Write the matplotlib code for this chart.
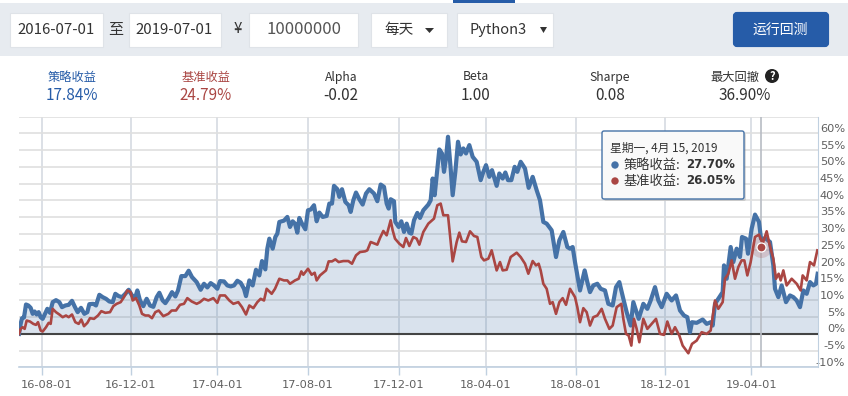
#!/usr/bin/env python3
"""Backtest page screenshot: parameter bar, summary numbers, return curves."""
import numpy as np
import matplotlib
matplotlib.use('Agg')
from matplotlib import pyplot as plt
from matplotlib.patches import Rectangle, FancyBboxPatch, Circle, Polygon
from matplotlib.transforms import ScaledTranslation

plt.rcParams['font.family'] = ['Noto Sans CJK SC', 'DejaVu Sans']

# x is a session position along the time axis, y is cumulative return in percent
blue_x_a = [57,62,66,72,78,85,92,98,104,110,116,122,128,135,142,150,158,168,178,186,196,206,216,225,233,243,253,262,268,280,288,298,308,318,328,338,346,356,366,376,386,396,406,412,420,430,440,450,460,470,478,488,496,506,516,526,534,544,556,566,576,590,602,612,622,632,642,652,660,672,682,692,702,712,722,732,738,748,758,768,778,786,796,802,808,818,826,832,838,852,862]
blue_y_a = [0,3,4.7,4.9,8.8,8.5,7.8,6,6.7,5.8,6.5,5,4.5,6,7.5,6.3,9.5,10.1,9.5,8,8.5,8.7,9.9,8,6.5,7.8,6,6.5,8.9,9,8.5,11.7,11,10.5,9.7,9.5,12,11.3,11,12,13.2,11.5,11,13,10,8.3,10.5,8.5,8.1,11,12.3,10,9.2,10.7,12.5,11.2,13,17.3,17.3,18.9,17,15.5,13.2,15,13.9,15.2,14.5,13.5,15.8,15.7,14.5,14.2,14.5,15.9,15.3,13.5,11.3,16,14.5,19.2,17.5,21.8,19.3,25.5,28.5,25.5,29,30,33.5,33.9,35]
blue_x_b = [870,878,885,892,898,906,916,924,932,942,950,958,968,980,988,996,1002,1012,1018,1026,1036,1046,1052,1060,1068,1078,1088,1098,1108,1122,1132,1142,1152,1160,1166,1172,1182,1186,1196,1204,1212,1220,1228,1234,1242,1252,1260,1270,1285,1292,1298,1304,1312,1318,1326,1332,1338,1344,1352,1358,1366,1374,1382,1390,1398,1408,1418,1430,1442,1450,1458,1468,1476,1490,1498,1508,1516,1524,1534,1544,1552,1562,1575,1586,1598,1610,1620,1630,1640,1655,1668,1678,1690,1702,1710]
blue_y_b = [32,33.7,33,30.3,34.7,33,31.3,37,37.2,38.5,33.7,36.3,35,35.3,39,39,44.3,43.3,41,43.3,39.5,38.5,36.5,40,42.3,40.3,38.7,42,43.3,42,39.7,44.7,44,39,37.5,40.3,39.7,33.5,32,33.7,30.5,33,30.3,30,34,36.2,34.7,37,38.7,40,46.5,41.5,49.5,55.2,54,48.5,52.5,59,49.5,41.5,48.5,57.5,53.7,55.5,54,56.5,53,51.5,46,48.5,50.5,47,49,44.3,48,46.5,48.3,46,46,50,48.5,51.5,49.5,43.7,47,43,40,33.5,33,31,23,28,30.5,26,25.5]
blue_x_c = [1718,1725,1732,1740,1748,1754,1762,1770,1780,1792,1802,1815,1825,1838,1848,1858,1870,1880,1892,1900,1916,1930,1942,1952,1965,1975,1985,2000,2015,2028,2040,2052,2062,2070,2076,2090,2108,2120,2132,2138,2145,2158,2168,2172,2180,2192,2200,2210,2220,2226,2238,2244,2255,2265,2277,2283,2298,2310,2320,2325,2335,2345,2358,2370,2380,2390,2400,2410,2420,2430,2440,2448,2453]
blue_y_c = [26,21.5,17.5,13,16.5,19,15.5,12.5,14.5,15,13.5,13,9,8.5,14,15.5,10.5,6.5,2.5,9.5,4.5,9,7.5,10,14,10,8,12,10,11.5,7,5.5,5,0.5,3.5,3.3,4.3,3,3.5,2.5,9,11,12.5,20.5,16.5,26,21.5,25.5,23,29,28.5,24,31.5,35.7,33.5,28.5,28.5,27.5,20.5,13.5,11,14.5,9.5,11.5,11,10,8,13,12,15.5,14.5,15,18]

red_x_a = [57,62,68,74,80,90,100,108,114,122,128,138,146,152,158,168,178,188,198,206,216,226,236,244,252,262,270,282,294,304,316,330,340,350,362,372,382,392,398,408,418,426,436,446,456,466,476,490,505,515,528,540,552,562,575,590,600,612,625,640,652,660,675,688,700,715,726,738,748,760,772,782,792,800,815,825,838,852,862]
red_y_a = [0,1.5,2,1.5,4,3.7,3,2.7,3.5,1,0.7,2,3.3,3,7.5,6.5,5.8,5,5.5,5,5.8,3.5,3,4.3,2.3,3.3,4.7,4.5,5.5,6.8,6.3,6.5,8.3,9,9.5,11,13,12.5,10,10.7,8.5,6,5.5,5.5,4.7,6.5,7,5.3,6,7,7,8.7,9,10.7,9.7,9,9.5,10.5,10,10.7,9.3,11.5,11.5,10,9,9.5,8,5.8,8.5,7.7,9.5,10.5,10,13.5,12,13.5,16.5,16,16]
red_x_b = [870,885,896,904,910,924,935,944,950,960,978,986,996,1006,1016,1030,1045,1056,1068,1080,1095,1102,1112,1132,1140,1150,1160,1172,1178,1185,1198,1210,1218,1228,1240,1250,1258,1270,1285,1302,1312,1322,1330,1344,1350,1358,1370,1378,1386,1398,1410,1422,1432,1444,1452,1465,1475,1490,1500,1508,1520,1532,1550,1562,1575,1585,1598,1608,1616,1622,1630,1640,1650,1658,1668,1678,1688,1698,1710]
red_y_b = [15,16,16.5,18.7,17.7,19.5,17.7,18.3,16,17.5,19,21.7,21.7,22.3,21.5,21.8,21.8,21,23.5,24.5,24.7,25,27.5,26.7,28.7,30.8,29.5,34,31,28.5,27,26,28.7,26.3,29,28.5,26.7,30.5,33,34.5,38.5,39,35.5,35.5,29.5,21.7,27.5,30.3,27.7,27.5,30.7,29.3,29,23,22,22.5,25,19,21.5,19,19.2,23,24.3,23,21,18,21.8,20.5,21,19,15,13.5,9,9.5,6,9.5,10.7,8.7,13.5]
red_x_c = [1725,1732,1740,1750,1760,1770,1780,1792,1805,1815,1828,1838,1850,1864,1870,1878,1886,1894,1902,1910,1918,1930,1942,1955,1968,1980,1992,2002,2015,2025,2038,2048,2065,2076,2090,2105,2120,2132,2145,2155,2168,2175,2185,2195,2205,2215,2225,2233,2242,2252,2265,2277,2288,2300,2308,2320,2328,2336,2342,2350,2360,2375,2390,2402,2408,2420,2430,2442,2452]
red_y_c = [11,8,3.5,7.7,6.5,2.5,5,5.5,7.5,4.5,1.5,2.5,8,9,4.5,0,-0.5,-3.5,4.5,1.5,-2.5,4.5,1.5,3,4.5,0,-0.3,3.7,0,2,-0.5,-3.5,-5.8,-3,-2,0.5,0,1,10,7.5,9.5,16.5,18,22,16.5,20,22,22,17.5,21.5,29,29.7,27,30.7,27,22.5,16.5,18,16,19,14.5,16.5,15,13,17.5,16,21.5,20.5,25]

x_tick_pos = [125, 392, 652, 924, 1197, 1458, 1728, 1996, 2254]
x_tick_labels = ['16-08-01', '16-12-01', '17-04-01', '17-08-01', '17-12-01',
                 '18-04-01', '18-08-01', '18-12-01', '19-04-01']
y_ticks = [-10, -5, 0, 5, 10, 15, 20, 25, 30, 35, 40, 45, 50, 55, 60]

hover_x = 2283
hover_red = 26.05

stat_names = ['策略收益', '基准收益', 'Alpha', 'Beta', 'Sharpe', '最大回撤']
stat_values = ['17.84%', '24.79%', '-0.02', '1.00', '0.08', '36.90%']

BLUE = '#4572a7'
RED = '#aa4643'
W, H = 848, 396

blue_x = np.array(blue_x_a + blue_x_b + blue_x_c)
blue_y = np.array(blue_y_a + blue_y_b + blue_y_c)
red_x = np.array(red_x_a + red_x_b + red_x_c)
red_y = np.array(red_y_a + red_y_b + red_y_c)

fig = plt.figure(figsize=(W / 100, H / 100), dpi=100)

# Chart area
left, right, top, bottom = 19, 818, 116.7, 367.3
ax = fig.add_axes([left / W, 1 - bottom / H, (right - left) / W, (bottom - top) / H])
ax.set_xlim(57, 2454)
ax.set_ylim(-10, 65)
ax.set_yticks(y_ticks + [65])
ax.set_yticklabels([f'{v}%' for v in y_ticks] + [''], ha='right')
ax.yaxis.tick_right()
ax.set_xticks(x_tick_pos)
ax.set_xticklabels(x_tick_labels)
ax.grid(axis='y', color='#dfdfdf', lw=1.2)
ax.grid(axis='x', color='#d5dae2', lw=1.2)
ax.set_axisbelow(True)
# labels are right aligned against the picture edge
ax.tick_params(axis='y', length=0, pad=19.5, labelsize=8.2, labelcolor='#606060', labelfontfamily='DejaVu Sans')
ax.tick_params(axis='x', length=6, width=1, color='#c0d0e0', pad=3, labelsize=8.2, labelcolor='#606060', labelfontfamily='DejaVu Sans')
for lbl in ax.get_yticklabels():
    lbl.set_horizontalalignment('right')
    lbl.set_transform(lbl.get_transform() + ScaledTranslation(0, 5.5 / 100, fig.dpi_scale_trans))
first = ax.get_xticklabels()[0]
first.set_transform(first.get_transform() + ScaledTranslation(4.5 / 100, 0, fig.dpi_scale_trans))
for side in ['left', 'top']:
    ax.spines[side].set_visible(False)
ax.spines['right'].set_color('#c0d0e0')
ax.spines['bottom'].set_color('#c0d0e0')
ax.spines['bottom'].set_linewidth(1.2)

ax.fill_between(blue_x, blue_y, 0, color=BLUE, alpha=0.2, lw=0, zorder=2)
ax.axhline(0, color='#444444', lw=1.5, zorder=3)
ax.plot(blue_x, blue_y, color=BLUE, lw=3.0, zorder=4, solid_joinstyle='round')
ax.plot(red_x, red_y, color=RED, lw=1.9, zorder=5, solid_joinstyle='round')
ax.axvline(hover_x, color='#b8bcc4', lw=1.2, zorder=3)
ax.scatter([hover_x], [hover_red], s=230, color=RED, alpha=0.2, lw=0, zorder=6)
ax.scatter([hover_x], [hover_red], s=42, color=RED, edgecolor='white', lw=0.9, zorder=7)

# Page chrome in pixel coordinates
ui = fig.add_axes([0, 0, 1, 1], zorder=10)
ui.set_xlim(0, W)
ui.set_ylim(H, 0)
ui.axis('off')
ui.patch.set_alpha(0)

ui.add_patch(Rectangle((0, 3), W, 53, color='#e7ebf0', lw=0))
ui.add_patch(Rectangle((453, 0), 62, 3, color='#265ca8', lw=0))
for x0, x1 in [(10, 103), (129, 221), (249, 358), (371, 447), (457, 553)]:
    ui.add_patch(Rectangle((x0, 13), x1 - x0, 34, fc='white', ec='#dfe3e8', lw=0.8))
ui.add_patch(FancyBboxPatch((735, 14), 92, 31, boxstyle='round,pad=0,rounding_size=2',
                            fc='#265ca8', ec='#265ca8', lw=3))

ctrl = dict(ha='center', va='center', fontsize=10.8, color='#333333')
ui.text(56, 30, '2016-07-01', **ctrl)
ui.text(116, 30, '至', **ctrl)
ui.text(174, 30, '2019-07-01', **ctrl)
ui.text(238, 29, '¥', **ctrl)
ui.text(304, 30, '10000000', ha='center', va='center', fontsize=12, color='#555555')
ui.text(399, 30, '每天', ha='center', va='center', fontsize=10.5, color='#333333')
ui.add_patch(Polygon([(425, 28), (434, 28), (429.5, 33)], color='#333333', lw=0))
ui.text(498, 30, 'Python3', ha='center', va='center', fontsize=10.5, color='#333333')
ui.add_patch(Polygon([(540, 27), (547, 27), (543.5, 33)], color='#333333', lw=0))
ui.text(780, 30, '运行回测', ha='center', va='center', fontsize=10, color='white')

stat_x = [72, 206, 341, 476, 610, 735]
value_x = [72, 206, 341, 476, 610, 745]
stat_colors = ['#265ca8', RED, '#333333', '#333333', '#333333', '#333333']
for name, val, nx, vx, c in zip(stat_names, stat_values, stat_x, value_x, stat_colors):
    ui.text(nx, 77, name, ha='center', va='center', fontsize=8.8, color=c)
    ui.text(vx, 96, val, ha='center', va='center', fontsize=11, color=c)
ui.add_patch(Circle((772, 76), 7, color='#222222', lw=0))
ui.text(772, 76, '?', ha='center', va='center', fontsize=8, fontweight='bold', color='white')

# Tooltip
ui.add_patch(FancyBboxPatch((604, 133), 142, 68, boxstyle='round,pad=0,rounding_size=2',
                            fc='#999999', ec='none', alpha=0.35))
ui.add_patch(FancyBboxPatch((602, 131), 142, 68, boxstyle='round,pad=0,rounding_size=2',
                            fc='#f9f9f9', ec=BLUE, lw=1))
ui.text(610, 148, '星期一, 4月 15, 2019', va='center', fontsize=8.5, color='#333333')
for yy, col, name, val in [(165, BLUE, '策略收益:', '27.70%'), (181, RED, '基准收益:', '26.05%')]:
    ui.add_patch(Circle((615, yy), 3.7, color=col, lw=0))
    ui.text(624, yy, name, va='center', fontsize=9.5, color='#333333')
    ui.text(686, yy, val, va='center', fontsize=8.5, fontweight='bold', color='#333333',
            family='DejaVu Sans')

fig.savefig('out.png', dpi=100)
